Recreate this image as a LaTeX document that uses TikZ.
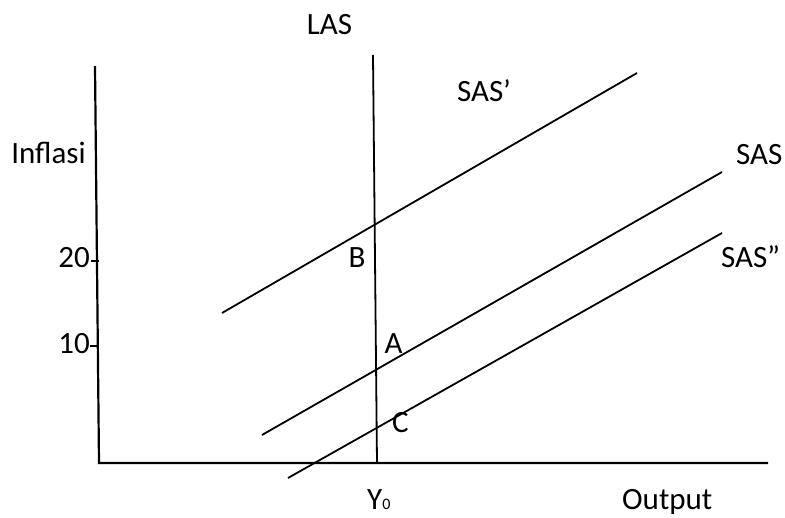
\documentclass[tikz,border=0pt]{standalone}
\usepackage{fontspec}
\setmainfont{Carlito}
\usepackage{tikz}
\usetikzlibrary{positioning}

\begin{document}
\begin{tikzpicture}[
  x=1pt, y=-1pt,
  axis/.style={line width=2.2pt, draw=black},
  curve/.style={line width=1.8pt, draw=black},
  lbl/.style={font=\fontsize{31}{33}\selectfont, inner sep=0pt}
]
  \useasboundingbox (0,0) rectangle (785,518);
  % axes
  \coordinate (ytop) at (95,66);
  \coordinate (orig) at (99,463);
  \coordinate (xend) at (768,463);
  \draw[axis] (ytop) -- (orig) -- (xend);
  % ticks
  \coordinate (t20a) at (91,261);
  \coordinate (t20b) at (99,261);
  \coordinate (t10a) at (90,346);
  \coordinate (t10b) at (98,346);
  \draw[curve] (t20a) -- (t20b);
  \draw[curve] (t10a) -- (t10b);
  \node[lbl, anchor=base east] (v20) at (90,268) {20};
  \node[lbl, anchor=base east] (v10) at (90,354) {10};
  \node[lbl, anchor=base] (inflasi) at (48.5,164) {Inflasi};
  % long run supply
  \coordinate (lastop) at (373,55);
  \coordinate (lasbot) at (377,463);
  \draw[curve] (lastop) -- (lasbot);
  \node[lbl, anchor=base] (las) at (329.5,35) {LAS};
  % short run supply curves
  \coordinate (sasp1) at (222,313);
  \coordinate (sasp2) at (637,73);
  \coordinate (sas1) at (262,435);
  \coordinate (sas2) at (722,172);
  \coordinate (saspp1) at (288,478);
  \coordinate (saspp2) at (722,233);
  \draw[curve] (sasp1) -- (sasp2);
  \draw[curve] (sas1) -- (sas2);
  \draw[curve] (saspp1) -- (saspp2);
  \node[lbl, anchor=base west] (lsasp) at (457,102) {SAS’};
  \node[lbl, anchor=base west] (lsas) at (736,165) {SAS};
  \node[lbl, anchor=base west] (lsaspp) at (721,268) {SAS”};
  % points
  \node[lbl, anchor=base] (pb) at (357,268) {B};
  \node[lbl, anchor=base] (pa) at (393.5,354) {A};
  \node[lbl, anchor=base] (pc) at (400.5,433) {C};
  % x axis labels
  \node[lbl, anchor=base west] (y0) at (367,510) {Y{\fontsize{16}{16}\selectfont 0}};
  \node[lbl, anchor=base west] (output) at (622,510) {Output};
\end{tikzpicture}
\end{document}
